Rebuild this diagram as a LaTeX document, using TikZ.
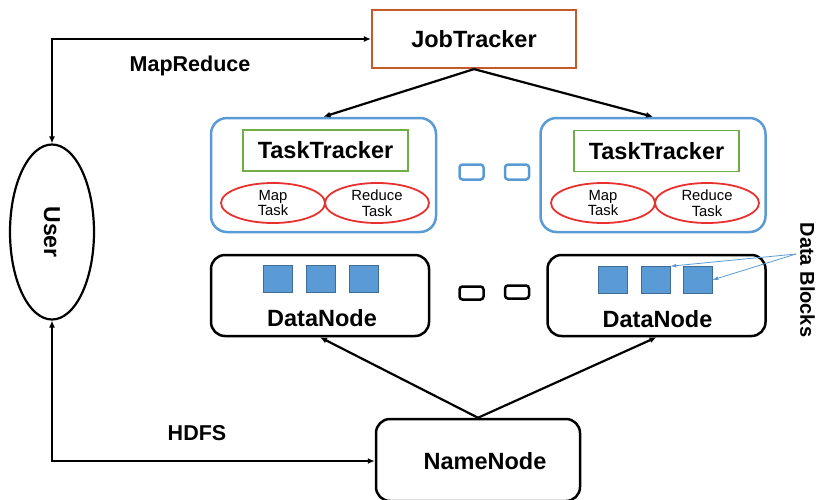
\documentclass[tikz,border=0pt]{standalone}
\usepackage{fontspec}
\setmainfont{Liberation Sans}
\usetikzlibrary{arrows.meta,shapes.geometric}
\definecolor{jt}{HTML}{C55A28}
\definecolor{tb}{HTML}{5B9BD5}
\definecolor{tg}{HTML}{70AD47}
\definecolor{tr}{HTML}{E8312F}
\begin{document}
\begin{tikzpicture}[x=1pt,y=-1pt,
  conn/.style={line width=2.2pt,-{Latex[length=7pt,width=6pt]}},
  bconn/.style={line width=2.2pt,{Latex[length=7pt,width=6pt]}-{Latex[length=7pt,width=6pt]}},
  container/.style={draw=tb,line width=2.5pt,rounded corners=16pt,minimum width=225pt,minimum height=114pt},
  dnbox/.style={draw=black,line width=2.5pt,rounded corners=14pt,minimum width=218pt,minimum height=81pt},
  ttbox/.style={draw=tg,line width=1.8pt,minimum width=165pt,minimum height=41pt,font=\fontsize{23.5}{25}\selectfont\bfseries},
  taskell/.style={ellipse,draw=tr,line width=1.8pt,minimum width=104pt,minimum height=40pt,inner sep=0pt,align=center,font=\fontsize{14.8}{15.5}\selectfont},
  blk/.style={draw=tb!70!black,fill=tb,line width=0.6pt,minimum width=29pt,minimum height=27pt,inner sep=0pt},
  dotb/.style={draw=tb,line width=2.5pt,rounded corners=3pt,minimum width=24pt,minimum height=15pt,inner sep=0pt},
  dotk/.style={draw=black,line width=2.5pt,rounded corners=3pt,minimum width=24pt,minimum height=13pt,inner sep=0pt},
  lbl/.style={font=\fontsize{23.5}{25}\selectfont\bfseries}]
\useasboundingbox (0,0) rectangle (819,499);
% JobTracker
\node[draw=jt,line width=2.2pt,minimum width=204pt,minimum height=58pt,font=\fontsize{23.5}{25}\selectfont\bfseries] (jt) at (474,39) {JobTracker};
% TaskTracker containers
\node[container] (c1) at (323.5,175) {};
\node[container] (c2) at (653,175) {};
\node[ttbox] (tt1) at (325.5,150.5) {TaskTracker};
\node[ttbox] (tt2) at (656.5,151) {TaskTracker};
\node[taskell] (m1) at (273,203) {Map\\Task};
\node[taskell] (r1) at (377,203) {Reduce\\Task};
\node[taskell] (m2) at (603,203) {Map\\Task};
\node[taskell] (r2) at (707,203) {Reduce\\Task};
\node[dotb] (db1) at (471.5,172) {};
\node[dotb] (db2) at (517,172) {};
% DataNodes
\node[dnbox] (d1) at (320,295.5) {};
\node[dnbox] (d2) at (656.5,295.5) {};
\node[lbl] (d1t) at (322,318) {DataNode};
\node[lbl] (d2t) at (657.5,319) {DataNode};
\node[blk] (b11) at (277.5,279) {};
\node[blk] (b12) at (320.5,279) {};
\node[blk] (b13) at (363.5,279) {};
\node[blk] (b21) at (612.5,280) {};
\node[blk] (b22) at (655.5,280) {};
\node[blk] (b23) at (697.5,280) {};
\node[dotk] (dk1) at (471.5,293) {};
\node[dotk] (dk2) at (517,292) {};
% NameNode
\node[draw=black,line width=2.5pt,rounded corners=14pt,minimum width=204pt,minimum height=82pt] (nn) at (478,460) {};
\node[lbl] (nnt) at (485,461) {NameNode};
% User
\node[ellipse,draw=black,line width=2.2pt,minimum width=84pt,minimum height=175pt,inner sep=0pt] (user) at (52,232) {};
\node[rotate=-90,font=\fontsize{23}{25}\selectfont\bfseries] (usert) at (52,232) {User};
% labels
\node[font=\fontsize{21.5}{23}\selectfont\bfseries] (mr) at (190,66) {MapReduce};
\node[font=\fontsize{21.5}{23}\selectfont\bfseries] (hd) at (197,433) {HDFS};
\node[rotate=-90,anchor=south,inner sep=1pt,font=\fontsize{20}{22}\selectfont\bfseries] (dbl) at (799,280) {Data Blocks};
% connectors
\coordinate (ul) at (52,39);
\coordinate (bl) at (52,461);
\draw[bconn] (user.north) -- (ul) -- (jt.west);
\draw[bconn] (user.south) -- (bl) -- (nn.west |- bl);
\draw[conn] (jt.south) -- (c1.north);
\draw[conn] (jt.south) -- (c2.north);
\coordinate (nt) at (nn.north);
\draw[conn] (nt) -- (d1.south);
\draw[conn] (nt) -- (d2.south);
\coordinate (dbp) at (796,254);
\draw[tb,line width=0.8pt,-{Latex[length=6pt,width=4pt]}] (dbp) -- (b22.north east);
\draw[tb,line width=0.8pt,-{Latex[length=6pt,width=4pt]}] (dbp) -- (b23.east);
\end{tikzpicture}
\end{document}
